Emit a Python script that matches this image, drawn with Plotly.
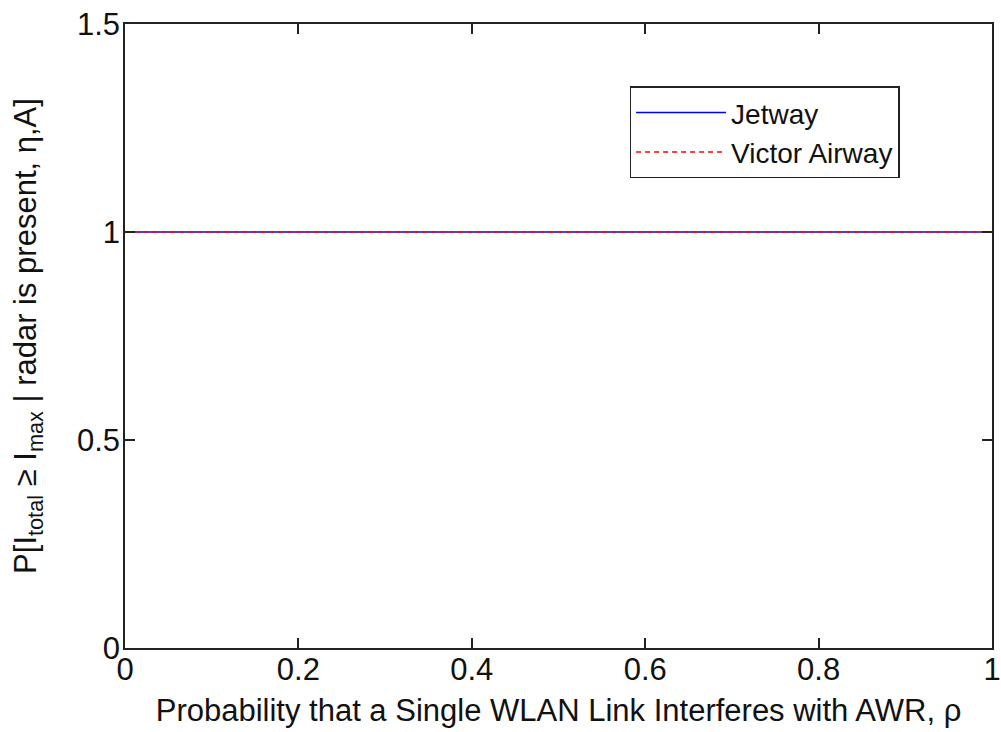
import plotly.graph_objects as go

# Data
rho = [0.0, 0.1, 0.2, 0.3, 0.4, 0.5, 0.6, 0.7, 0.8, 0.9, 1.0]
p_jetway = [1, 1, 1, 1, 1, 1, 1, 1, 1, 1, 1]
p_victor = [1, 1, 1, 1, 1, 1, 1, 1, 1, 1, 1]
x_ticks = [0, 0.2, 0.4, 0.6, 0.8, 1]
x_tick_labels = ["0", "0.2", "0.4", "0.6", "0.8", "1"]
y_ticks = [0, 0.5, 1, 1.5]
y_tick_labels = ["0", "0.5", "1", "1.5"]

FONT = "Liberation Sans, Arial, sans-serif"

fig = go.Figure()
fig.add_trace(go.Scatter(x=rho, y=p_jetway, mode="lines", name="Jetway",
                         line=dict(color="#0000ff", width=1.5)))
fig.add_trace(go.Scatter(x=rho, y=p_victor, mode="lines", name="Victor Airway",
                         line=dict(color="#ff0000", width=1.5, dash="5px,4px")))

axis_common = dict(
    showgrid=False, zeroline=False, showline=True, linecolor="#222222",
    linewidth=1.5, mirror="ticks", ticks="inside", ticklen=10, tickwidth=1.5,
    tickcolor="#222222", tickfont=dict(family=FONT, size=31, color="#111111"),
    automargin=False, ticklabeloverflow="allow",
)

fig.update_layout(
    width=1001, height=732,
    margin=dict(l=125, r=9, t=24, b=84),
    paper_bgcolor="#ffffff", plot_bgcolor="#ffffff",
    font=dict(family=FONT, color="#111111"),
    showlegend=True,
    legend=dict(
        x=0.582, y=0.9, xanchor="left", yanchor="top",
        bgcolor="#ffffff", bordercolor="#222222", borderwidth=1.5,
        font=dict(family=FONT, size=28, color="#111111"),
        tracegroupgap=0, itemwidth=90,
    ),
    xaxis=dict(range=[0, 1], tickvals=x_ticks, ticktext=x_tick_labels,
               ticklabelstandoff=-7,
               title=dict(text="Probability that a Single WLAN Link Interferes with AWR, ρ",
                          font=dict(family=FONT, size=31, color="#111111"), standoff=13),
               **axis_common),
    yaxis=dict(range=[0, 1.5], tickvals=y_ticks, ticktext=y_tick_labels,
               ticklabelstandoff=-3,
               title=dict(text="P[I<sub>total</sub> ≥ I<sub>max</sub> | radar is present, η,A]",
                          font=dict(family=FONT, size=31, color="#111111"), standoff=31),
               **axis_common),
)

fig.write_html("out.html", config={"displayModeBar": False},
               post_script="document.body.style.margin='0';document.body.style.overflow='hidden';")
